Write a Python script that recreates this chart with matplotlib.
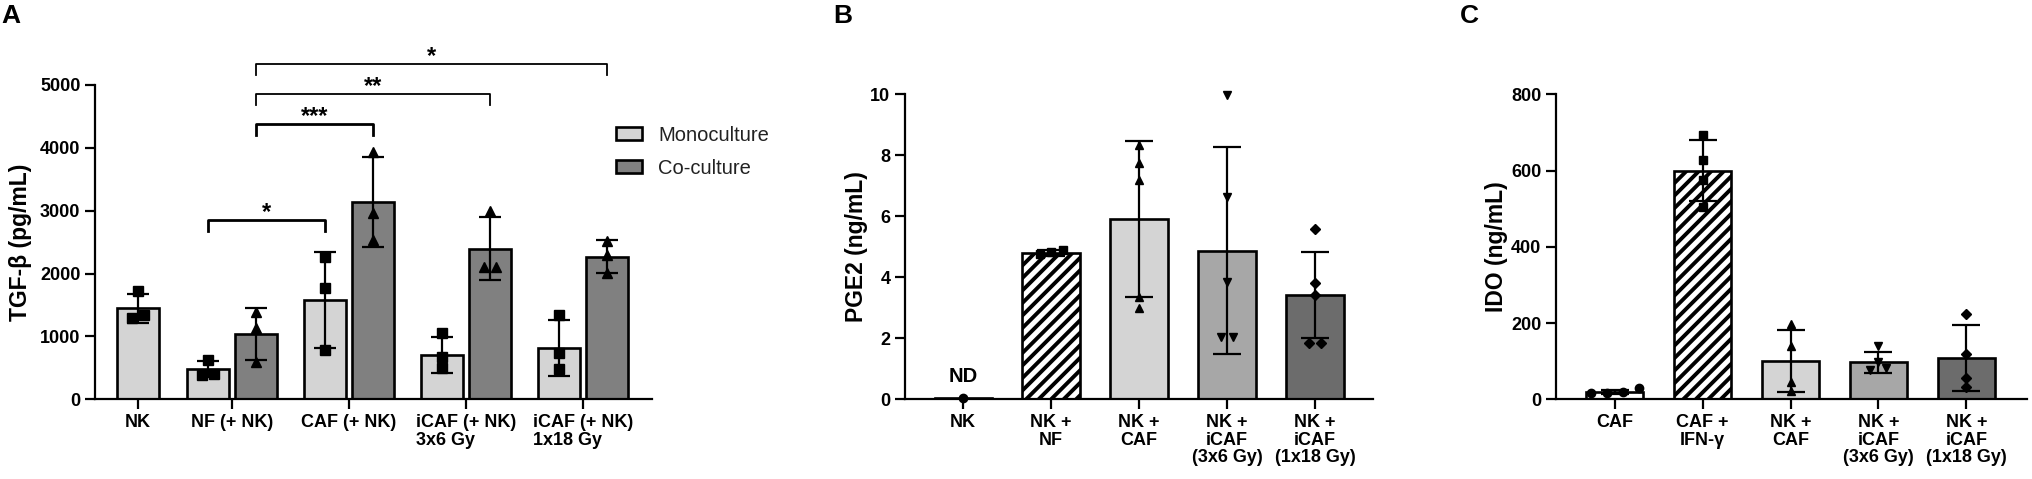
import matplotlib
matplotlib.use('Agg')
import matplotlib.pyplot as plt
from matplotlib.patches import Patch
import numpy as np

plt.rcParams['font.family'] = ['Liberation Sans', 'DejaVu Sans']
plt.rcParams['font.weight'] = 'bold'
plt.rcParams['axes.labelweight'] = 'bold'

# ---- Panel A: TGF-beta ----
a_labels = ['NK', 'NF (+ NK)', 'CAF (+ NK)', 'iCAF (+ NK)\n3x6 Gy', 'iCAF (+ NK)\n1x18 Gy']
a_mono_mean = [1450, 480, 1580, 705, 822]
a_mono_sd = [230, 125, 765, 290, 445]
a_mono_pts = [[1720, 1290, 1340], [625, 380, 400], [2270, 1770, 785],
              [1050, 670, 490], [1340, 730, 480]]
a_co_mean = [1045, 3137, 2393, 2271]          # no co-culture for NK alone
a_co_sd = [415, 715, 500, 260]
a_co_pts = [[1395, 1130, 600], [3940, 2960, 2540], [2990, 2110, 2110], [2520, 2290, 2005]]
# brackets: (group, series) -> (group, series), height, label ; series 0 = mono, 1 = co
a_sig = [((1, 0), (2, 0), 2855, '*'),
         ((1, 1), (2, 1), 4384, '***'),
         ((1, 1), (3, 1), 4862, '**'),
         ((1, 1), (4, 1), 5334, '*')]

# ---- Panel B: PGE2 ----
b_labels = ['NK', 'NK +\nNF', 'NK +\nCAF', 'NK +\niCAF\n(3x6 Gy)', 'NK +\niCAF\n(1x18 Gy)']
b_mean = [0.05, 4.8, 5.91, 4.87, 3.42]
b_sd = [0, 0.1, 2.55, 3.4, 1.42]
b_pts = [[0.05], [4.88, 4.82, 4.76], [8.35, 7.75, 7.2, 3.35, 3.0],
         [9.98, 6.64, 3.86, 2.05, 2.05], [5.6, 3.8, 3.42, 1.86, 1.86]]

# ---- Panel C: IDO ----
c_labels = ['CAF', 'CAF +\nIFN-γ', 'NK +\nCAF', 'NK +\niCAF\n(3x6 Gy)', 'NK +\niCAF\n(1x18 Gy)']
c_mean = [20, 599, 100, 97, 108]
c_sd = [5, 80, 81, 27, 87]
c_pts = [[17, 29, 19, 17], [693, 627, 575, 505], [198, 140, 46, 23],
         [140, 99, 81, 76], [225, 118, 55, 33]]

light = '#d4d4d4'
mid = '#a7a7a7'
dark = '#6c6c6c'
co_col = '#808080'
bc_colors = ['white', 'white', light, mid, dark]
bc_hatch = [False, True, False, False, False]
bc_markers = ['o', 's', '^', 'v', 'D']

EDGE = 1.9
LW = 1.6


def spread(vals, tol, step):
    # side-by-side offsets for points with nearly equal values
    vals = np.asarray(vals, float)
    order = np.argsort(vals)
    offs = np.zeros(len(vals))
    clusters, cur = [], [order[0]]
    for i in order[1:]:
        if vals[i] - vals[cur[-1]] <= tol:
            cur.append(i)
        else:
            clusters.append(cur)
            cur = [i]
    clusters.append(cur)
    for c in clusters:
        k = len(c)
        for j, idx in enumerate(c):
            offs[idx] = (j - (k - 1) / 2) * step
    return offs


def hatch_bar(ax, bar, spacing_px=12.5, lw=2.8):
    # dense 45-degree stripes clipped to the bar
    bb = ax.get_window_extent()
    x0, x1 = ax.get_xlim()
    y0, y1 = ax.get_ylim()
    sx = bb.width / (x1 - x0)
    sy = bb.height / (y1 - y0)
    bx, by, bw, bh = bar.get_x(), bar.get_y(), bar.get_width(), bar.get_height()
    span = bh * sy / sx
    dx = spacing_px / sx
    for c in np.arange(bx - span, bx + bw + dx, dx):
        ln, = ax.plot([c, c + span], [by, by + bh], color='black', lw=lw,
                      solid_capstyle='butt', zorder=2.5)
        ln.set_clip_path(bar)


def draw_bar(ax, x, mean, sd, pts, color, marker, width, cap, tol, step, hatch=False, ms=6.5):
    bar = ax.bar(x, mean, width, color=color, edgecolor='black', linewidth=EDGE,
                 zorder=2).patches[0]
    if hatch:
        hatch_bar(ax, bar)
    if sd > 0:
        ax.errorbar(x, mean, yerr=sd, fmt='none', ecolor='black', elinewidth=LW,
                    capsize=cap, capthick=LW, zorder=3)
    offs = spread(pts, tol, step)
    ax.plot(x + offs, pts, marker=marker, ls='none', color='black', ms=ms, zorder=4,
            clip_on=False)


def style(ax, xlim, ymax, yticks, labels, xpos, ylabel, labcoord, malign='center'):
    for s in ['top', 'right']:
        ax.spines[s].set_visible(False)
    for s in ['left', 'bottom']:
        ax.spines[s].set_linewidth(LW)
    ax.set_xlim(*xlim)
    ax.set_ylim(0, ymax)
    ax.set_yticks(yticks)
    ax.set_xticks(xpos)
    ax.set_xticklabels(labels, multialignment=malign, linespacing=1.05)
    ax.tick_params(axis='both', width=LW, length=7, labelsize=13, pad=3.5)
    ax.set_ylabel(ylabel, fontsize=16.5, fontweight='bold')
    ax.yaxis.set_label_coords(labcoord, 0.5)


fig = plt.figure(figsize=(20.32, 4.79), dpi=100)

# Panel A
axA = fig.add_axes([0.04675, 0.1664, 0.2741, 0.6562])
a_x = np.array([0.2, 1, 2, 3, 4])
wA, offA = 0.36, 0.205
mono_x = np.array([a_x[0]] + list(a_x[1:] - offA))
co_x = a_x[1:] + offA
style(axA, (-0.168, 4.592), 5000, range(0, 5001, 1000), a_labels, a_x,
      'TGF-β (pg/mL)', -0.113, 'left')
for i in range(len(a_labels)):
    draw_bar(axA, mono_x[i], a_mono_mean[i], a_mono_sd[i], a_mono_pts[i], light, 's',
             wA, 8, 90, 0.1)
for i in range(len(a_co_mean)):
    draw_bar(axA, co_x[i], a_co_mean[i], a_co_sd[i], a_co_pts[i], co_col, '^',
             wA, 8, 90, 0.1)

series_x = [lambda g: mono_x[g], lambda g: co_x[g - 1]]
for k, ((g1, s1), (g2, s2), h, lab) in enumerate(a_sig):
    x1, x2 = series_x[s1](g1), series_x[s2](g2)
    lw = 2.0 if k < 2 else 1.3
    axA.plot([x1, x1, x2, x2], [h - 180, h, h, h - 180], color='black', lw=lw,
             clip_on=False, zorder=5)
    axA.text((x1 + x2) / 2, h + 10, lab, ha='center', va='baseline', fontsize=17,
             clip_on=False)

axA.legend(handles=[Patch(facecolor=light, edgecolor='black', linewidth=EDGE, label='Monoculture'),
                    Patch(facecolor=co_col, edgecolor='black', linewidth=EDGE, label='Co-culture')],
           loc='center left', bbox_to_anchor=(0.935, 0.787), frameon=False,
           prop={'weight': 'normal', 'size': 14.5}, handlelength=1.3, handleheight=0.6,
           handletextpad=0.8, labelspacing=0.7, borderpad=0, borderaxespad=0,
           labelcolor='#222222')

# Panel B
axB = fig.add_axes([0.4454, 0.1664, 0.2303, 0.6367])
bx = np.arange(len(b_labels))
style(axB, (-0.66, 4.66), 10, range(0, 11, 2), b_labels, bx, 'PGE2 (ng/mL)', -0.079)
for i in range(len(b_labels)):
    draw_bar(axB, bx[i], b_mean[i], b_sd[i], b_pts[i], bc_colors[i], bc_markers[i],
             0.65, 10, 0.2, 0.13, hatch=bc_hatch[i], ms=6 if bc_markers[i] != 'D' else 5)
axB.text(bx[0], 0.45, 'ND', ha='center', va='bottom', fontsize=14.5)

# Panel C
axC = fig.add_axes([0.7657, 0.1664, 0.2318, 0.6367])
cx = np.arange(len(c_labels))
style(axC, (-0.67, 4.69), 800, range(0, 801, 200), c_labels, cx, 'IDO (ng/mL)', -0.102)
for i in range(len(c_labels)):
    draw_bar(axC, cx[i], c_mean[i], c_sd[i], c_pts[i], bc_colors[i], bc_markers[i],
             0.65, 10, 16, 0.18, hatch=bc_hatch[i], ms=6 if bc_markers[i] != 'D' else 5)

for lab, xp in [('A', 0.0005), ('B', 0.41), ('C', 0.7185)]:
    fig.text(xp, 0.966, lab, ha='left', va='center', fontsize=19)

fig.savefig('out.png', dpi=100)
